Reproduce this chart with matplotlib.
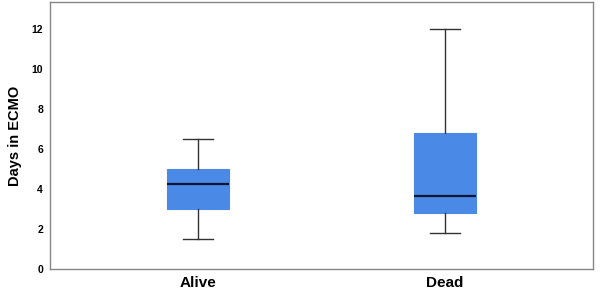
import matplotlib
matplotlib.use("Agg")
import matplotlib.pyplot as plt

plt.rcParams['font.family'] = ['Liberation Sans', 'DejaVu Sans']

groups = ['Alive', 'Dead']
whisker_low = [1.5, 1.8]
q1 = [3.0, 2.8]
median = [4.25, 3.65]
q3 = [5.0, 6.8]
whisker_high = [6.5, 12.0]

stats = []
for i, g in enumerate(groups):
    stats.append({
        'label': g,
        'whislo': whisker_low[i],
        'q1': q1[i],
        'med': median[i],
        'q3': q3[i],
        'whishi': whisker_high[i],
        'fliers': [],
    })

fig = plt.figure(figsize=(6, 2.97), dpi=100)
ax = fig.add_axes([0.0833, 0.094, 0.905, 0.899])

ax.bxp(stats, positions=[1, 2], widths=0.25, patch_artist=True,
       showfliers=False,
       boxprops=dict(facecolor='#4a8ae6', edgecolor='#4a8ae6', linewidth=0.8),
       medianprops=dict(color='#0a1530', linewidth=1.6),
       whiskerprops=dict(color='#333333', linewidth=1.0),
       capprops=dict(color='#333333', linewidth=1.0),
       capwidths=0.12)

ax.set_xlim(0.4, 2.6)
ax.set_ylim(0, 13.35)
ax.set_yticks([0, 2, 4, 6, 8, 10, 12])
ax.tick_params(axis='y', length=0, labelsize=7.5, pad=5)
ax.tick_params(axis='x', length=0, labelsize=11, pad=5)
for lbl in ax.get_yticklabels():
    lbl.set_fontweight('bold')
for lbl in ax.get_xticklabels():
    lbl.set_fontweight('bold')
ax.set_ylabel('Days in ECMO', fontsize=10.5, fontweight='bold', labelpad=7)

for s in ax.spines.values():
    s.set_color('#888888')
    s.set_linewidth(1.0)

fig.savefig('out.png', dpi=100)
